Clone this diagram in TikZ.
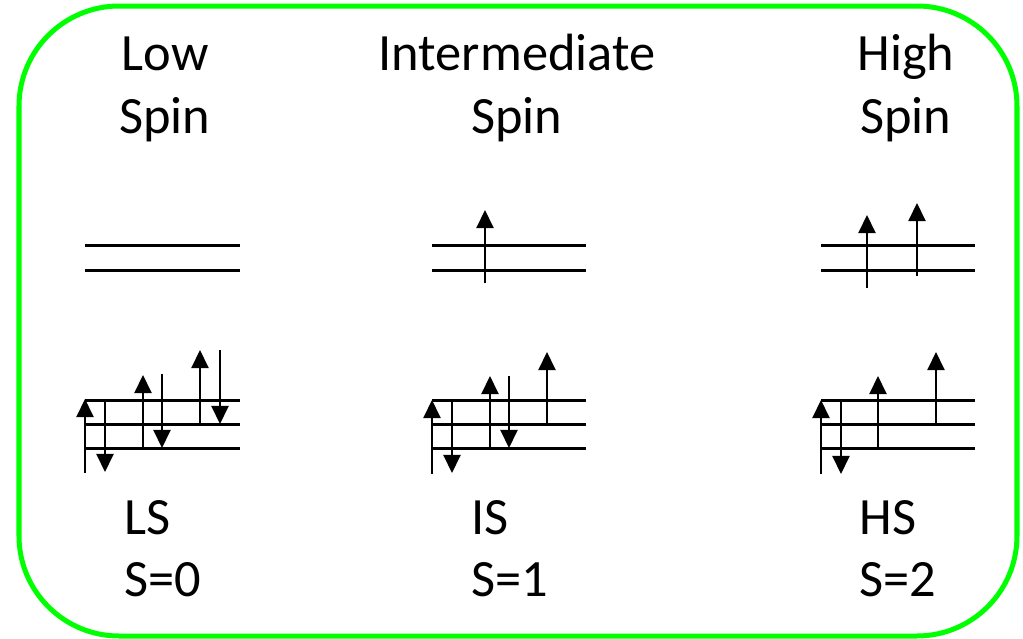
\documentclass[tikz,border=0pt]{standalone}
\usepackage{fontspec}
\setmainfont{Carlito}
\usepackage{tikz}
\usetikzlibrary{arrows.meta}
\definecolor{boxgreen}{RGB}{0,255,0}

\begin{document}
\begin{tikzpicture}[x=0.01cm, y=-0.01cm,
        level/.style={line width=0.03cm},
        spin/.style={line width=0.02cm, -{Triangle[width=0.17cm, length=0.18cm]}},
        title/.style={anchor=base, inner sep=0, font=\fontsize{14.9}{18}\selectfont},
        tag/.style={anchor=base west, inner sep=0, font=\fontsize{14.9}{18}\selectfont}]
        \useasboundingbox (0,0) rectangle (1023,639);
        % frame
        \draw[boxgreen, line width=0.05cm, rounded corners=1cm] (19,6) rectangle (1017,636);
        % headings
        \foreach \n/\x/\a in {low/165/Low, mid/517/Intermediate, high/906/High} {
            \node[title] (\n1) at (\x,70) {\a};
            \node[title] (\n2) at (\x,133) {Spin};
        }
        % e_g and t_2g levels
        \foreach \xa/\xb in {85/240, 432/586, 821/975} {
            \draw[level] (\xa,245) -- (\xb,245);
            \draw[level] (\xa,270) -- (\xb,270);
            \draw[level] (\xa,400) -- (\xb,400);
            \draw[level] (\xa,424) -- (\xb,424);
            \draw[level] (\xa,448) -- (\xb,448);
        }
        % electrons: x / start / tip
        \foreach \x/\a/\b in {85/473/399, 105/400/472, 143/448/375, 162/374/448, 200/424/350, 220/350/424,
                              432/474/400, 452/400/473, 490/448/376, 509/376/448, 547/424/352, 485/283/210,
                              821/474/400, 841/400/474, 878/448/376, 936/424/352, 867/288/215, 917/276/203} {
            \draw[spin] (\x,\a) -- (\x,\b);
        }
        % labels
        \foreach \n/\x/\a/\s in {ls/124/LS/0, is/471/IS/1, hs/859/HS/2} {
            \node[tag] (\n1) at (\x,534) {\a};
            \node[tag] (\n2) at (\x,596) {S=\s};
        }
    \end{tikzpicture}
\end{document}
